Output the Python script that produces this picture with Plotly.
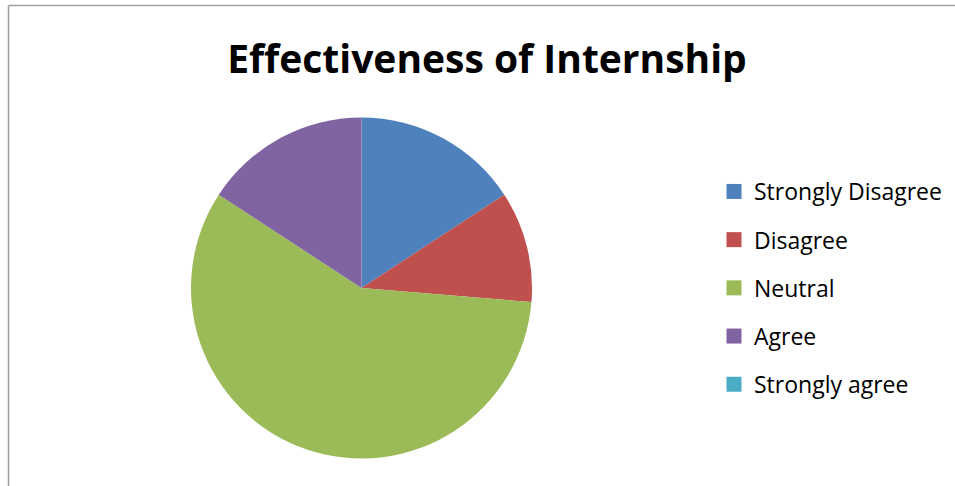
import plotly.graph_objects as go

categories = ["Strongly Disagree", "Disagree", "Neutral", "Agree", "Strongly agree"]
values = [3, 2, 11, 3, 0]
colors = ["#4F81BD", "#C0504D", "#9BBB59", "#8064A2", "#4BACC6"]
title_text = "Effectiveness of Internship"

W, H = 955, 486
cx, cy, r = 361.5, 288, 170.5

fig = go.Figure()
fig.add_trace(go.Pie(
    labels=categories, values=values, sort=False, direction="clockwise",
    rotation=0, textinfo="none", showlegend=False,
    marker=dict(colors=colors, line=dict(width=0)),
    domain=dict(x=[(cx - r) / W, (cx + r) / W], y=[(H - cy - r) / H, (H - cy + r) / H]),
))
for i, (c, col) in enumerate(zip(categories, colors)):
    fig.add_trace(go.Scatter(
        x=[None], y=[None], mode="markers", name=c, legendgroup=f"g{i}",
        marker=dict(symbol="square", size=15, color=col),
    ))

fig.update_layout(
    width=W, height=H,
    margin=dict(l=0, r=0, t=0, b=0),
    paper_bgcolor="white", plot_bgcolor="white",
    xaxis=dict(visible=False), yaxis=dict(visible=False),
    title=dict(text=f"<b>{title_text}</b>", x=487 / W, xanchor="center", y=1 - 59 / H, yanchor="middle",
               font=dict(family="Open Sans", size=39, color="black")),
    legend=dict(x=714 / W, y=1 - 170 / H, xanchor="left", yanchor="top",
                font=dict(family="Open Sans", size=23, color="black"),
                tracegroupgap=15.3, bgcolor="rgba(0,0,0,0)"),
    shapes=[
        dict(type="line", xref="paper", yref="paper", x0=8.5 / W, x1=8.5 / W, y0=0, y1=1 - 5.5 / H,
             line=dict(color="#A0A0A0", width=1.5)),
        dict(type="line", xref="paper", yref="paper", x0=8.5 / W, x1=1, y0=1 - 5.5 / H, y1=1 - 5.5 / H,
             line=dict(color="#A0A0A0", width=1.5)),
    ],
)
fig.write_html("out.html", config={"displayModeBar": False},
               post_script="document.body.style.margin='0';")
